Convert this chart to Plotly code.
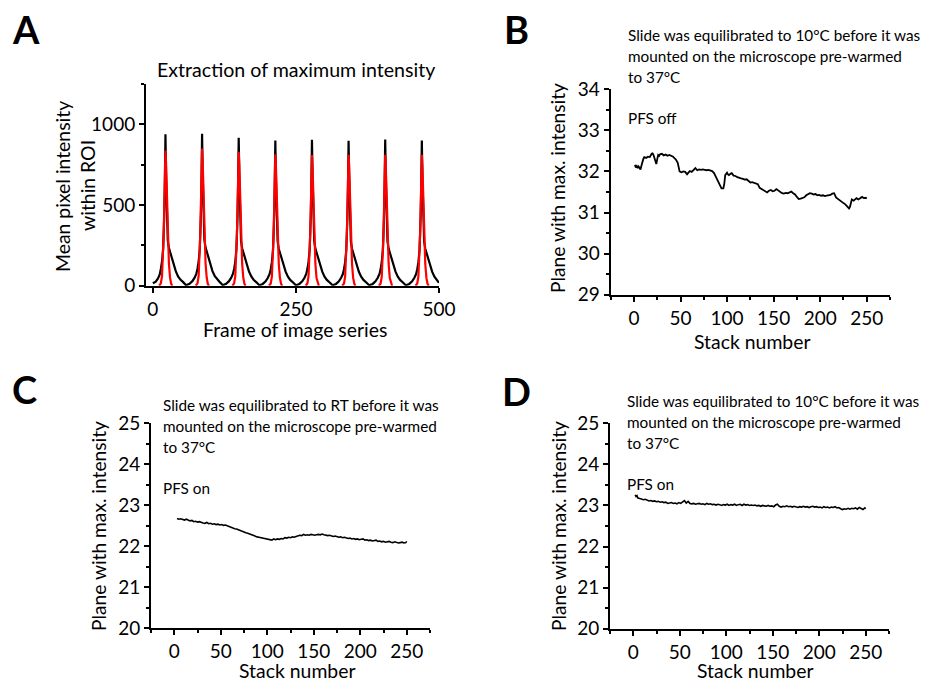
import plotly.graph_objects as go

W, H = 928, 681
FONT = "Lato"

# ---------------- Panel A data ----------------
A_FRAME = [
    0, 5, 9, 12, 14, 16, 18, 19, 20, 21, 22, 23, 24, 25, 26, 28, 30, 33, 36, 40, 44, 48, 53, 57,
    58, 64, 69, 73, 76, 78, 80, 82, 83, 84, 85, 86, 87, 88, 89, 90, 92, 94, 97, 100, 104, 108, 112, 117, 121,
    122, 128, 133, 137, 140, 142, 144, 146, 147, 148, 149, 150, 151, 152, 153, 154, 156, 158, 161, 164, 168, 172, 176, 181, 185,
    186, 192, 197, 201, 204, 206, 208, 210, 211, 212, 213, 214, 215, 216, 217, 218, 220, 222, 225, 228, 232, 236, 240, 245, 249,
    250, 256, 261, 265, 268, 270, 272, 274, 275, 276, 277, 278, 279, 280, 281, 282, 284, 286, 289, 292, 296, 300, 304, 309, 313,
    314, 320, 325, 329, 332, 334, 336, 338, 339, 340, 341, 342, 343, 344, 345, 346, 348, 350, 353, 356, 360, 364, 368, 373, 377,
    378, 384, 389, 393, 396, 398, 400, 402, 403, 404, 405, 406, 407, 408, 409, 410, 412, 414, 417, 420, 424, 428, 432, 437, 441,
    442, 448, 453, 457, 460, 462, 464, 466, 467, 468, 469, 470, 471, 472, 473, 474, 476, 478, 481, 484, 488, 492, 496, 500,
]
A_BLACK = [
    15, 25, 45, 70, 105, 150, 230, 320, 450, 650, 938, 700, 470, 350, 280, 235, 210, 175, 130, 90, 58, 38, 22, 8,
    3, 12, 28, 50, 75, 105, 150, 230, 320, 450, 650, 942, 705, 475, 355, 285, 238, 212, 178, 132, 92, 60, 40, 22, 8,
    3, 12, 28, 50, 74, 104, 148, 226, 315, 442, 640, 917, 690, 462, 345, 278, 232, 207, 173, 128, 88, 57, 37, 21, 7,
    3, 11, 27, 49, 73, 102, 146, 222, 310, 435, 630, 900, 680, 455, 340, 274, 229, 204, 170, 126, 87, 56, 36, 20, 6,
    3, 11, 27, 49, 73, 103, 147, 223, 312, 437, 632, 905, 682, 457, 342, 275, 230, 205, 171, 127, 87, 56, 36, 20, 6,
    3, 11, 27, 49, 72, 102, 146, 221, 309, 434, 628, 898, 678, 454, 340, 273, 229, 204, 170, 126, 86, 56, 36, 20, 6,
    3, 11, 27, 49, 73, 103, 147, 223, 311, 436, 631, 906, 683, 457, 342, 275, 230, 205, 171, 127, 87, 56, 36, 20, 6,
    3, 11, 27, 49, 72, 102, 146, 222, 310, 435, 630, 900, 680, 455, 340, 274, 229, 204, 170, 126, 87, 56, 36, 18,
]
A_RED_FRAME = [
    11, 14, 16, 18, 19, 20, 21, 22, 23, 24, 25, 26, 28, 30, 32, 34, None,
    75, 78, 80, 82, 83, 84, 85, 86, 87, 88, 89, 90, 92, 94, 96, 98, None,
    139, 142, 144, 146, 147, 148, 149, 150, 151, 152, 153, 154, 156, 158, 160, 162, None,
    203, 206, 208, 210, 211, 212, 213, 214, 215, 216, 217, 218, 220, 222, 224, 226, None,
    267, 270, 272, 274, 275, 276, 277, 278, 279, 280, 281, 282, 284, 286, 288, 290, None,
    331, 334, 336, 338, 339, 340, 341, 342, 343, 344, 345, 346, 348, 350, 352, 354, None,
    395, 398, 400, 402, 403, 404, 405, 406, 407, 408, 409, 410, 412, 414, 416, 418, None,
    459, 462, 464, 466, 467, 468, 469, 470, 471, 472, 473, 474, 476, 478, 480, 482,
]
A_RED = [
    0, 15, 60, 200, 330, 500, 700, 838, 765, 605, 455, 322, 140, 50, 12, 0, None,
    0, 15, 61, 203, 335, 507, 710, 850, 776, 614, 461, 327, 142, 51, 12, 0, None,
    0, 15, 59, 198, 326, 494, 692, 828, 756, 598, 449, 318, 138, 49, 12, 0, None,
    0, 14, 58, 194, 320, 486, 680, 814, 743, 588, 442, 313, 136, 49, 12, 0, None,
    0, 14, 58, 193, 319, 483, 677, 810, 740, 585, 439, 311, 135, 48, 12, 0, None,
    0, 14, 58, 194, 320, 484, 678, 812, 741, 586, 440, 312, 135, 48, 12, 0, None,
    0, 14, 58, 194, 320, 484, 678, 812, 741, 586, 440, 312, 135, 48, 12, 0, None,
    0, 14, 58, 194, 320, 484, 678, 812, 741, 586, 440, 312, 135, 48, 12, 0,
]

# ---------------- Panel B data ----------------
B_STACK = [
    1, 2, 3, 4, 5, 6, 7, 8, 9, 10, 11, 13, 15, 17, 19, 20, 21, 22, 23, 24, 25, 26, 27, 28, 30, 32, 34, 36,
    38, 40, 42, 44, 45, 47, 48, 49, 51, 53, 55, 57, 58, 60, 62, 64, 66, 68, 70, 72, 74, 76, 78, 80, 82, 84,
    86, 88, 89, 91, 93, 94, 96, 97, 98, 100, 101, 102, 104, 105, 107, 109, 111, 113, 115, 117, 119, 121,
    123, 125, 127, 129, 131, 133, 135, 137, 139, 141, 143, 145, 147, 149, 151, 153, 155, 157, 159, 161,
    163, 165, 167, 169, 171, 173, 175, 177, 179, 181, 183, 185, 187, 189, 191, 193, 195, 197, 199, 201,
    203, 205, 207, 209, 211, 213, 215, 217, 219, 221, 223, 225, 227, 229, 231, 232, 233, 234, 236, 238,
    239, 241, 243, 245, 247, 249, 250,
]
B_PLANE = [
    32.16, 32.10, 32.13, 32.08, 32.12, 32.06, 32.05, 32.14, 32.26, 32.30, 32.35, 32.33, 32.36, 32.35,
    32.43, 32.44, 32.40, 32.32, 32.25, 32.18, 32.30, 32.40, 32.38, 32.42, 32.43, 32.39, 32.41, 32.38,
    32.40, 32.38, 32.36, 32.31, 32.29, 32.21, 32.04, 32.00, 31.98, 32.00, 31.99, 31.93, 31.96, 32.01,
    31.99, 32.04, 32.08, 32.03, 32.05, 32.04, 32.05, 32.04, 32.03, 32.04, 32.03, 32.01,
    31.96, 31.86, 31.81, 31.70, 31.63, 31.59, 31.59, 31.70, 31.91, 31.97, 31.93, 31.91, 31.95, 31.96,
    31.90, 31.89, 31.86, 31.84, 31.83, 31.82, 31.80, 31.81,
    31.76, 31.73, 31.74, 31.72, 31.71, 31.69, 31.60, 31.57, 31.55, 31.52, 31.49, 31.53, 31.55, 31.52,
    31.53, 31.57, 31.53, 31.51, 31.47, 31.46,
    31.48, 31.47, 31.50, 31.51, 31.47, 31.44, 31.38, 31.33, 31.34, 31.36, 31.37, 31.42, 31.44, 31.47,
    31.46, 31.44, 31.45, 31.42, 31.43, 31.41,
    31.42, 31.40, 31.41, 31.42, 31.43, 31.46, 31.47, 31.37, 31.33, 31.30, 31.26, 31.23, 31.20, 31.16,
    31.10, 31.14, 31.25, 31.32, 31.29, 31.33,
    31.35, 31.32, 31.36, 31.38, 31.35, 31.36, 31.34,
]

# ---------------- Panel C data ----------------
C_STACK = list(range(3, 250, 2)) + [250]
C_PLANE = [
    22.68, 22.66, 22.67, 22.65, 22.64, 22.66, 22.63, 22.62, 22.63, 22.60,
    22.61, 22.59, 22.60, 22.58, 22.57, 22.56, 22.58, 22.55, 22.56, 22.54,
    22.55, 22.53, 22.54, 22.52, 22.53, 22.51, 22.52, 22.50, 22.48, 22.47,
    22.45, 22.43, 22.42, 22.40, 22.39, 22.37, 22.35, 22.33, 22.32, 22.30,
    22.28, 22.27, 22.25, 22.23, 22.22, 22.21, 22.21, 22.20, 22.19, 22.17,
    22.16, 22.15, 22.18, 22.16, 22.18, 22.17, 22.19, 22.18, 22.21, 22.20,
    22.22, 22.21, 22.23, 22.22, 22.24, 22.25, 22.27, 22.26, 22.29, 22.27,
    22.28, 22.27, 22.29, 22.28, 22.27, 22.28, 22.29, 22.28, 22.30, 22.28,
    22.27, 22.26, 22.27, 22.25, 22.24, 22.25, 22.23, 22.22, 22.23, 22.21,
    22.22, 22.20, 22.19, 22.20, 22.18, 22.19, 22.17, 22.18, 22.16, 22.17,
    22.18, 22.15, 22.16, 22.14, 22.15, 22.13, 22.14, 22.15, 22.12, 22.13,
    22.11, 22.12, 22.10, 22.11, 22.12, 22.10, 22.09, 22.11, 22.10, 22.08,
    22.09, 22.10, 22.08, 22.09, 22.12,
]

# ---------------- Panel D data ----------------
D_STACK = [2, 3, 4] + list(range(5, 250, 2)) + [250]
D_PLANE = [
    23.26, 23.22, 23.24,
    23.18, 23.17, 23.15, 23.14, 23.15, 23.12, 23.11, 23.12, 23.10, 23.11,
    23.09, 23.10, 23.08, 23.09, 23.07, 23.08, 23.05, 23.06, 23.07, 23.05,
    23.06, 23.04, 23.07, 23.05, 23.09, 23.12, 23.06, 23.10, 23.05, 23.04,
    23.05, 23.03, 23.04, 23.05, 23.03, 23.04, 23.02, 23.05, 23.03, 23.04,
    23.02, 23.03, 23.01, 23.03, 23.02, 23.00, 23.02, 23.01, 23.03, 23.00,
    23.02, 23.01, 23.03, 23.00, 23.02, 23.03, 23.00, 23.03, 23.01, 23.02,
    23.00, 23.01, 23.00, 23.01, 22.99, 23.00, 22.98, 23.00, 22.99, 22.98,
    23.00, 22.98, 22.99, 22.97, 23.01, 23.03, 22.98, 22.96, 22.98, 22.97,
    22.99, 22.97, 22.98, 22.96, 22.98, 22.97, 22.95, 22.97, 22.96, 22.98,
    22.96, 22.97, 22.95, 22.97, 22.98, 22.96, 22.97, 22.95, 22.96, 22.94,
    22.97, 22.95, 22.96, 22.94, 22.96, 22.95, 22.97, 22.94, 22.95, 22.92,
    22.90, 22.92, 22.91, 22.93, 22.91, 22.93, 22.92, 22.94, 22.91, 22.95,
    22.92, 22.90, 22.94,
    22.92,
]
n = min(len(D_STACK), len(D_PLANE))
D_STACK, D_PLANE = D_STACK[:n], D_PLANE[:n]
n = min(len(C_STACK), len(C_PLANE))
C_STACK, C_PLANE = C_STACK[:n], C_PLANE[:n]

B_TEXT = ["Slide was equilibrated to 10°C before it was",
          "mounted on the microscope pre-warmed", "to 37°C"]
C_TEXT = ["Slide was equilibrated to RT before it was",
          "mounted on the microscope pre-warmed", "to 37°C"]
D_TEXT = B_TEXT

fig = go.Figure()
fig.add_trace(go.Scatter(x=A_FRAME, y=A_BLACK, mode="lines", line=dict(color="black", width=2.2),
                         xaxis="x", yaxis="y", showlegend=False))
fig.add_trace(go.Scatter(x=A_RED_FRAME, y=A_RED, mode="lines", line=dict(color="#ff0000", width=2.2),
                         xaxis="x", yaxis="y", showlegend=False, connectgaps=False))
fig.add_trace(go.Scatter(x=B_STACK, y=B_PLANE, mode="lines", line=dict(color="black", width=1.8),
                         xaxis="x2", yaxis="y2", showlegend=False))
fig.add_trace(go.Scatter(x=C_STACK, y=C_PLANE, mode="lines", line=dict(color="black", width=1.6),
                         xaxis="x3", yaxis="y3", showlegend=False))
fig.add_trace(go.Scatter(x=D_STACK, y=D_PLANE, mode="lines", line=dict(color="black", width=1.6),
                         xaxis="x4", yaxis="y4", showlegend=False))


def px(x):
    return x / W


def py(y):
    return 1 - y / H


def axis(domain, rng, dtick, mdtick, anchor, tick0=0):
    return dict(domain=domain, range=rng, anchor=anchor, automargin=False,
                showline=True, linecolor="black", linewidth=2,
                ticks="outside", ticklen=5, tickwidth=2, tickcolor="black",
                dtick=dtick, tick0=tick0, showgrid=False, zeroline=False,
                tickfont=dict(family=FONT, size=19, color="black"),
                minor=dict(dtick=mdtick, ticks="outside", ticklen=3, tickwidth=1.5,
                           tickcolor="black", showgrid=False),
                fixedrange=True)


fig.update_layout(
    template="none",
    width=W, height=H, autosize=False, margin=dict(l=0, r=0, t=0, b=0, pad=0, autoexpand=False),
    paper_bgcolor="white", plot_bgcolor="white",
    font=dict(family=FONT, color="black"),
    showlegend=False,
    xaxis=axis([px(146), px(439)], [-12, 500], 250, 250, "y"),
    yaxis=axis([py(285.7), py(84)], [0, 1250], 500, 250, "x"),
    xaxis2=axis([px(610.7), px(890)], [-25, 275], 50, 25, "y2"),
    yaxis2=axis([py(294.7), py(89.3)], [29, 34], 1, 0.5, "x2"),
    xaxis3=axis([px(151), px(430)], [-25, 275], 50, 25, "y3"),
    yaxis3=axis([py(628.3), py(423.3)], [20, 25], 1, 0.5, "x3"),
    xaxis4=axis([px(610), px(889)], [-25, 275], 50, 25, "y4"),
    yaxis4=axis([py(628.7), py(423.3)], [20, 25], 1, 0.5, "x4"),
)

ann = []


def text(x, y, s, size=15, xanchor="left", angle=0, bold=False):
    ann.append(dict(x=px(x), y=py(y), xref="paper", yref="paper", text=("<b>%s</b>" % s) if bold else s,
                    showarrow=False, xanchor=xanchor, yanchor="middle", textangle=angle,
                    font=dict(family=FONT, size=size, color="black")))


# panel letters
text(10, 29, "A", 38, bold=True)
text(502, 29, "B", 38, bold=True)
text(10, 389, "C", 38, bold=True)
text(500, 391, "D", 38, bold=True)

# Panel A titles
text(296, 69, "Extraction of maximum intensity", 19.6, "center")
text(295, 329, "Frame of image series", 19.4, "center")
text(62, 186, "Mean pixel intensity", 19.4, "center", -90)
text(87, 186, "within ROI", 19.4, "center", -90)

# Panel B
for i, s in enumerate(B_TEXT):
    text(626, 35 + 21 * i, s, 15.3)
text(626, 118, "PFS off", 15.3)
text(558, 188, "Plane with max. intensity", 19.2, "center", -90)
text(752, 341, "Stack number", 19.4, "center")

# Panel C
for i, s in enumerate(C_TEXT):
    text(161, 405 + 21 * i, s, 15.3)
text(161, 488, "PFS on", 15.3)
text(98, 526, "Plane with max. intensity", 19.2, "center", -90)
text(297, 670, "Stack number", 19.4, "center")

# Panel D
for i, s in enumerate(D_TEXT):
    text(625, 401 + 21 * i, s, 15.3)
text(625, 484, "PFS on", 15.3)
text(558, 526, "Plane with max. intensity", 19.2, "center", -90)
text(755, 670, "Stack number", 19.4, "center")

fig.update_layout(annotations=ann)

# keep the 928x681 figure pinned to the page corner, with no page margin or scrollbars
PAGE_JS = """
(function () {
  var gd = document.querySelector('.plotly-graph-div');
  document.documentElement.style.margin = '0';
  document.body.style.margin = '0';
  document.documentElement.style.overflow = 'hidden';
  document.body.style.overflow = 'hidden';
  gd.style.position = 'fixed';
  gd.style.left = '0px';
  gd.style.top = '0px';
})();
"""
fig.write_html("out.html", post_script=PAGE_JS)
